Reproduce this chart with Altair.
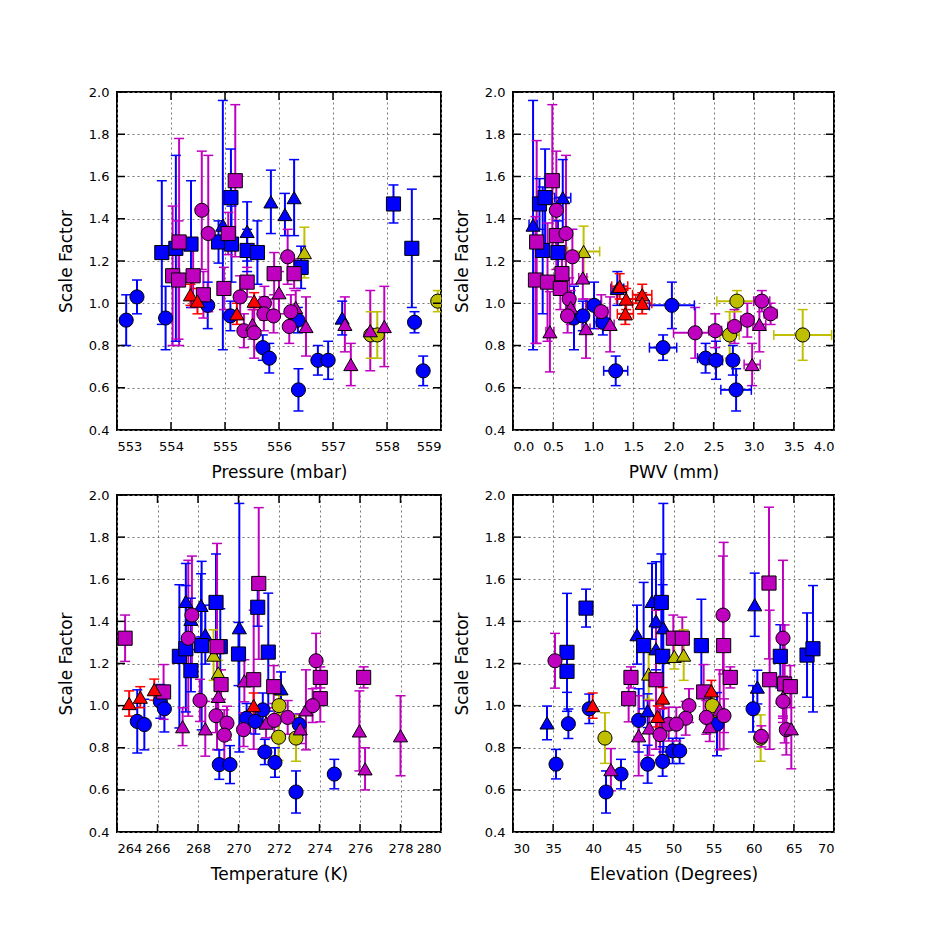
import altair as alt
import pandas as pd

# kind codes: first letter = colour (b blue, m magenta, r red, y yellow), second = marker (c circle, s square, t triangle)

# ---- Panel 1: Pressure ----
P_KIND = ["bc","bc","bc","bs","ms","bs","ms","ms","bs","ms","rt","rt","mc","mc","ms","bc","bt","bs","bs","ms",
          "ms","bs","ms","bc","rt","bt","bs","bs","ms","mc","rt","mc","mt","mc","mc","mc","mc","bc","bc","bt",
          "ms","mt","bt","bt","yt","mc","ms","bs","mt","mt","mc","mc","bc","bc","bc","bc","bt","mt","mt","mt",
          "yc","yc","mt","bs","bs","bc","bc","yc"]
P_X = [553.17,553.37,553.90,553.83,554.03,554.09,554.15,554.14,554.37,554.41,554.36,554.49,554.57,554.69,554.60,554.68,554.96,554.88,555.11,555.19,
       555.06,555.12,554.98,555.10,555.22,555.41,555.41,555.60,555.41,555.28,555.54,555.35,555.51,555.54,555.73,555.72,555.90,555.70,555.82,555.85,
       555.91,556.00,556.11,556.28,556.47,556.16,556.28,556.41,556.31,556.50,556.22,556.19,556.35,556.36,556.72,556.91,557.17,557.22,557.33,557.69,
       557.70,557.82,557.95,558.12,558.46,558.51,558.67,558.94]
P_SF = [0.92,1.03,0.93,1.24,1.13,1.26,1.29,1.11,1.28,1.13,1.04,1.01,1.44,1.33,1.04,0.99,1.37,1.29,1.50,1.58,
        1.33,1.28,1.07,0.94,0.95,1.34,1.25,1.24,1.10,1.03,1.01,0.87,0.90,0.86,1.00,0.95,0.94,0.79,0.74,1.48,
        1.14,1.05,1.42,1.50,1.24,1.22,1.14,1.17,0.98,0.89,0.96,0.89,0.92,0.59,0.73,0.73,0.93,0.90,0.71,0.87,
        0.85,0.85,0.89,1.47,1.26,0.91,0.68,1.01]
P_ERR = [0.12,0.08,0.15,0.34,0.33,0.44,0.49,0.28,0.30,0.15,0.05,0.06,0.28,0.37,0.11,0.11,0.59,0.10,0.23,0.36,
         0.10,0.18,0.10,0.07,0.05,0.14,0.10,0.15,0.07,0.10,0.04,0.08,0.07,0.12,0.08,0.08,0.08,0.06,0.07,0.15,
         0.10,0.10,0.10,0.18,0.12,0.13,0.07,0.10,0.08,0.14,0.08,0.08,0.06,0.10,0.07,0.09,0.08,0.13,0.10,0.19,
         0.11,0.11,0.19,0.09,0.28,0.05,0.07,0.05]

# ---- Panel 2: PWV ----
W_KIND = ["bt","ms","ms","bs","bs","ms","bt","mc","ms","mc","bs","bs","mc","yt","ms","mt","ms","ms","mc","mt",
          "mc","bc","bc","mt","mt","bc","mc","bc","mt","bc","bt","rt","rt","rt","rt","rt","bc","bc","mc","mc",
          "bc","bc","bc","bc","yc","yc","mc","mc","mt","mt","mc","mc","yc"]
W_X = [0.25,0.295,0.28,0.33,0.40,0.49,0.62,0.54,0.54,0.66,0.37,0.56,0.74,0.88,0.61,0.87,0.43,0.59,0.70,0.72,
       0.68,0.76,0.87,0.91,0.46,1.01,1.10,1.12,1.21,1.28,1.30,1.33,1.41,1.40,1.61,1.61,1.98,1.87,2.27,2.52,
       2.40,2.53,2.74,2.78,2.79,2.70,2.76,2.92,3.07,2.98,3.10,3.21,3.61]
W_SF = [1.37,1.29,1.11,1.47,1.50,1.58,1.50,1.44,1.32,1.33,1.25,1.24,1.22,1.245,1.14,1.12,1.10,1.07,1.02,0.98,
        0.94,0.93,0.94,0.88,0.865,0.99,0.96,0.91,0.90,0.68,1.07,1.08,1.02,0.95,1.04,1.00,0.99,0.79,0.86,0.87,
        0.74,0.73,0.73,0.59,1.01,0.85,0.89,0.92,0.90,0.71,1.01,0.95,0.85]
W_ERR = [0.59,0.48,0.30,0.12,0.23,0.36,0.18,0.28,0.10,0.37,0.30,0.15,0.13,0.12,0.07,0.10,0.28,0.10,0.10,0.08,
         0.08,0.15,0.07,0.14,0.19,0.11,0.08,0.06,0.13,0.07,0.08,0.06,0.05,0.05,0.05,0.05,0.11,0.06,0.12,0.08,
         0.07,0.09,0.07,0.10,0.05,0.11,0.08,0.08,0.13,0.10,0.05,0.05,0.12]
W_XERR = [0.05,0.05,0.05,0.05,0.05,0.05,0.10,0.05,0.05,0.05,0.05,0.05,0.05,0.20,0.05,0.05,0.05,0.05,0.05,0.05,
          0.05,0.08,0.05,0.05,0.05,0.08,0.08,0.08,0.05,0.15,0.08,0.10,0.12,0.10,0.12,0.12,0.28,0.17,0.27,0.08,
          0.10,0.08,0.06,0.19,0.25,0.12,0.08,0.08,0.08,0.10,0.10,0.08,0.36]

# ---- Panel 3: Temperature ----
T_KIND = ["ms","rt","rt","bc","bc","rt","bc","bc","ms","mt","bs","bs","bt","mc","bt","mc","bs","bt","bt","bs",
          "mc","mt","bs","bs","ms","yt","yt","ms","mt","mc","mc","mc","bc","bc","bt","bs","mt","mc","bc","ms",
          "ms","bs","rt","bc","bc","mt","bs","bc","bc","ms","mc","yc","yc","bt","mc","yc","bc","bc","mt","mt",
          "mc","ms","ms","mc","bc","ms","mt","mt","mt"]
T_X = [264.4,264.6,265.15,265.0,265.35,265.84,266.14,266.34,266.3,267.24,267.08,267.4,267.4,267.7,267.65,267.52,267.65,268.15,268.36,268.18,
       268.1,268.36,268.89,269.1,268.94,268.77,269.0,269.14,269.0,268.89,269.43,269.3,269.05,269.58,270.04,270.0,270.29,270.25,270.4,270.75,
       271.0,270.95,270.75,270.83,271.2,271.36,271.47,271.3,271.8,271.74,271.77,272.0,271.98,272.1,272.43,272.84,272.84,273.0,273.05,273.33,
       273.83,274.04,274.04,273.66,274.73,276.18,275.97,276.25,278.0]
T_SF = [1.32,1.01,1.04,0.925,0.91,1.076,1.02,0.985,1.065,0.90,1.234,1.27,1.495,1.43,1.41,1.32,1.166,1.476,1.337,1.285,
        1.025,0.89,1.49,1.28,1.28,1.24,1.155,1.10,1.044,0.952,0.917,0.86,0.72,0.72,1.37,1.245,1.118,0.886,0.94,1.123,
        1.58,1.467,1.00,0.925,0.98,0.917,1.254,0.78,0.73,1.09,0.93,1.00,0.85,1.08,0.944,0.846,0.59,0.91,0.89,0.98,
        1.213,1.134,1.033,1.00,0.675,1.134,0.88,0.70,0.857]
T_ERR = [0.11,0.06,0.05,0.15,0.12,0.05,0.08,0.11,0.13,0.09,0.34,0.30,0.18,0.28,0.10,0.37,0.10,0.15,0.14,0.40,
         0.10,0.13,0.23,0.18,0.49,0.12,0.06,0.07,0.08,0.08,0.08,0.12,0.07,0.09,0.59,0.15,0.10,0.08,0.07,0.33,
         0.36,0.09,0.06,0.06,0.08,0.07,0.28,0.06,0.07,0.10,0.08,0.05,0.11,0.08,0.08,0.11,0.10,0.05,0.07,0.19,
         0.13,0.05,0.11,0.08,0.07,0.05,0.19,0.10,0.19]

# ---- Panel 4: Elevation ----
E_KIND = ["bt","mc","bc","bs","bs","bc","bs","bc","rt","yc","bc","mt","bc","ms","ms","bc","mt","bc","mt","bt",
          "bs","bt","bt","bs","bt","bt","bs","yt","ms","rt","rt","bt","mc","bc","mc","ms","yt","bc","ms","yt",
          "bs","ms","rt","yc","mt","mc","ms","ms","mc","mc","mc","mc","bc","bc","mt","mc","bc","bt","bt","ms",
          "ms","mc","yc","mc","bs","ms","ms","mt","mc","mc","mt","bs","bs"]
E_X = [34.24,35.23,35.36,36.73,36.73,36.9,39.1,39.5,39.93,41.46,41.59,42.2,43.46,44.7,44.41,45.66,45.66,46.78,46.99,45.45,
       46.28,47.32,47.82,48.48,48.73,47.82,48.65,46.9,47.82,48.65,48.03,46.78,48.32,48.65,49.4,49.98,50.1,49.9,51.1,51.27,
       53.47,53.76,54.72,54.84,55.75,56.17,56.25,57.08,56.29,51.93,51.52,50.35,50.77,55.42,54.51,54.09,59.91,60.12,60.45,61.9,
       61.98,60.95,60.86,63.64,63.31,63.85,64.56,63.64,63.64,64.06,64.68,66.64,67.38]
E_SF = [0.918,1.213,0.722,1.253,1.163,0.914,1.463,0.985,1.00,0.846,0.59,0.696,0.675,1.134,1.033,0.93,0.857,0.722,0.894,1.337,
        1.285,1.495,1.403,1.49,1.37,1.27,1.234,1.15,1.123,1.036,0.949,0.976,0.862,0.735,0.912,1.32,1.234,0.785,1.32,1.24,
        1.285,1.065,1.07,1.00,0.98,1.43,1.285,1.134,0.952,1.00,0.94,0.912,0.785,0.912,0.90,0.944,0.985,1.479,1.088,1.582,
        1.123,0.854,0.846,1.32,1.234,1.103,1.09,1.04,1.02,0.886,0.89,1.24,1.27]
E_ERR = [0.08,0.13,0.07,0.28,0.10,0.07,0.09,0.07,0.06,0.12,0.10,0.10,0.07,0.05,0.11,0.15,0.19,0.09,0.13,0.14,
         0.30,0.18,0.28,0.23,0.59,0.10,0.34,0.12,0.33,0.05,0.05,0.08,0.12,0.07,0.08,0.11,0.06,0.06,0.10,0.12,
         0.22,0.13,0.05,0.05,0.19,0.28,0.49,0.05,0.08,0.08,0.08,0.08,0.06,0.15,0.07,0.08,0.11,0.15,0.08,0.36,
         0.33,0.05,0.11,0.37,0.15,0.28,0.10,0.10,0.10,0.12,0.19,0.20,0.30]

Y_TICKS = [0.4, 0.6, 0.8, 1.0, 1.2, 1.4, 1.6, 1.8, 2.0]
COLOR_KEYS = ["b", "m", "r", "y"]
COLOR_VALS = ["#0000ff", "#bf00bf", "#ff0000", "#bfbf00"]
DRAW_ORDER = {"b": 0, "y": 1, "m": 2, "r": 3}
FONT = "DejaVu Sans"


def make_frame(kinds, xs, sfs, errs, xerrs=None):
    df = pd.DataFrame({"kind": kinds, "x": xs, "sf": sfs, "err": errs})
    if xerrs is None:
        df["xerr"] = 0.0
    else:
        df["xerr"] = xerrs
    df["col"] = df["kind"].str[0]
    df["shp"] = df["kind"].str[1]
    df["lo"] = df["sf"] - df["err"]
    df["hi"] = df["sf"] + df["err"]
    df["xlo"] = df["x"] - df["xerr"]
    df["xhi"] = df["x"] + df["xerr"]
    df["ord"] = df["col"].map(DRAW_ORDER)
    df = df.sort_values("ord", kind="stable").reset_index(drop=True)
    df["rank"] = range(len(df))
    return df


def panel(df, xtitle, xdom, xticks, xfmt, w, h, xerr=False):
    xs = alt.Scale(domain=xdom, nice=False, zero=False)
    ys = alt.Scale(domain=[0.4, 2.0], nice=False, zero=False)
    xaxis = alt.Axis(values=xticks, format=xfmt, title=xtitle, labelPadding=10, titlePadding=11)
    yaxis = alt.Axis(values=Y_TICKS, format=".1f", title="Scale Factor", labelPadding=8, titlePadding=13)
    color = alt.Color("col:N", scale=alt.Scale(domain=COLOR_KEYS, range=COLOR_VALS), legend=None)
    base = alt.Chart(df)

    X = lambda f: alt.X(f, type="quantitative", scale=xs, axis=xaxis)
    Y = lambda f: alt.Y(f, type="quantitative", scale=ys, axis=yaxis)

    layers = []
    layers.append(base.mark_rule(strokeWidth=2, clip=True).encode(x=X("x"), y=Y("lo"), y2="hi", color=color))
    for f in ["lo", "hi"]:
        layers.append(base.mark_tick(orient="horizontal", size=10, thickness=1.5, clip=True, opacity=1)
                      .encode(x=X("x"), y=Y(f), color=color))
    if xerr:
        layers.append(base.mark_rule(strokeWidth=2, clip=True).encode(x=X("xlo"), x2="xhi", y=Y("sf"), color=color))
        for f in ["xlo", "xhi"]:
            layers.append(base.mark_tick(orient="vertical", size=10, thickness=1.5, clip=True, opacity=1)
                          .encode(x=X(f), y=Y("sf"), color=color))
    layers.append(
        base.mark_point(filled=True, size=200, stroke="black", strokeWidth=1, opacity=1, fillOpacity=1, clip=True)
        .encode(
            x=X("x"), y=Y("sf"),
            fill=alt.Fill("col:N", scale=alt.Scale(domain=COLOR_KEYS, range=COLOR_VALS), legend=None),
            shape=alt.Shape("shp:N", scale=alt.Scale(domain=["c", "s", "t"], range=["circle", "square", "triangle-up"]), legend=None),
            order=alt.Order("rank:Q"),
        )
    )
    # inward axis ticks on all four sides
    yt = alt.Chart(pd.DataFrame({"v": Y_TICKS}))
    xt = alt.Chart(pd.DataFrame({"v": xticks}))
    for xv in [0, w]:
        layers.append(yt.mark_tick(orient="horizontal", size=16, thickness=1.5, color="black", clip=True, opacity=1)
                      .encode(y=Y("v"), x=alt.value(xv)))
    for yv in [0, h]:
        layers.append(xt.mark_tick(orient="vertical", size=16, thickness=1.5, color="black", clip=True, opacity=1)
                      .encode(x=X("v"), y=alt.value(yv)))
    return alt.layer(*layers).properties(width=w, height=h)


p1 = panel(make_frame(P_KIND, P_X, P_SF, P_ERR), "Pressure (mbar)", [553, 559],
           [553, 554, 555, 556, 557, 558, 559], "d", 324, 338)
p2 = panel(make_frame(W_KIND, W_X, W_SF, W_ERR, W_XERR), "PWV (mm)", [0, 4],
           [0.0, 0.5, 1.0, 1.5, 2.0, 2.5, 3.0, 3.5, 4.0], ".1f", 321, 338, xerr=True)
p3 = panel(make_frame(T_KIND, T_X, T_SF, T_ERR), "Temperature (K)", [264, 280],
           [264, 266, 268, 270, 272, 274, 276, 278, 280], "d", 324, 337)
p4 = panel(make_frame(E_KIND, E_X, E_SF, E_ERR), "Elevation (Degrees)", [30, 70],
           [30, 35, 40, 45, 50, 55, 60, 65, 70], "d", 321, 337)

chart = alt.concat(
    p1, p2, p3, p4, columns=2, bounds="flush", spacing={"row": 65, "column": 72}
).properties(
    padding={"left": 48, "top": 77, "right": 5, "bottom": 5},
    background="white",
).configure_view(
    stroke="black", strokeWidth=2
).configure_axis(
    labelFont=FONT, titleFont=FONT, labelFontSize=13, titleFontSize=17,
    titleFontWeight="normal", labelColor="black", titleColor="black",
    domain=False, ticks=False,
    grid=True, gridColor="#777777", gridDash=[2, 3], gridWidth=1, gridOpacity=1,
)

chart.save("out.html", embed_options={"renderer": "svg", "actions": False})
